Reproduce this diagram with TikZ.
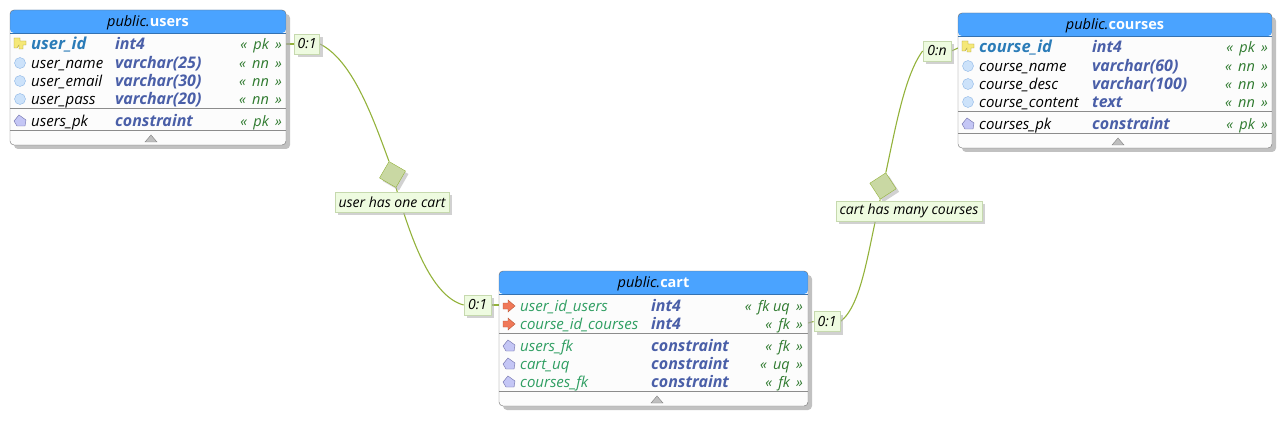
\documentclass[tikz,border=0pt]{standalone}
\usepackage{fontspec}
\setmainfont{Open Sans}
\usetikzlibrary{shadows,backgrounds}
\definecolor{headblue}{HTML}{4AA3FF}
\definecolor{framegray}{HTML}{6E6E6E}
\definecolor{sepgray}{HTML}{8C8C8C}
\definecolor{pkblue}{HTML}{2B7CB8}
\definecolor{fkgreen}{HTML}{2F9E62}
\definecolor{typeblue}{HTML}{4A5FA8}
\definecolor{taggreen}{HTML}{2F7A2F}
\definecolor{cardfill}{HTML}{EEFBE0}
\definecolor{carddraw}{HTML}{C6D9AE}
\definecolor{relgreen}{HTML}{93B23B}
\definecolor{relfill}{HTML}{C9D8A3}
\definecolor{colfill}{HTML}{CCE2FA}
\definecolor{coldraw}{HTML}{8DB6E6}
\definecolor{confill}{HTML}{C4C6F5}
\definecolor{condraw}{HTML}{6C6CA8}
\definecolor{pkfill}{HTML}{F5E878}
\definecolor{pkdraw}{HTML}{A89A30}
\definecolor{fkfill}{HTML}{F07858}
\definecolor{fkdraw}{HTML}{B85838}
\tikzstyle{tablebody}=[rectangle, draw=framegray, fill=black!1, rounded corners=4pt, inner sep=0pt, outer sep=0pt,
    drop shadow={shadow xshift=4pt, shadow yshift=-4pt, fill=black!35, opacity=0.7},
    path picture={\fill[headblue] (path picture bounding box.north west) rectangle ([yshift=-23pt]path picture bounding box.north east);
        \draw[headblue!70!black] ([yshift=-23pt]path picture bounding box.north west) -- ([yshift=-23pt]path picture bounding box.north east);}]
\tikzstyle{tabletitle}=[font=\fontsize{14.5}{16}\selectfont\itshape, inner sep=0pt, yshift=-1.5pt]
\tikzstyle{colname}=[anchor=mid west, inner sep=0pt, yshift=-2.5pt, font=\fontsize{15}{16}\selectfont\itshape]
\tikzstyle{colkey}=[colname, text=pkblue, font=\fontsize{16.5}{16}\selectfont\itshape\bfseries]
\tikzstyle{coltype}=[colname, text=typeblue, font=\fontsize{16}{16}\selectfont\itshape\bfseries]
\tikzstyle{coltag}=[anchor=mid east, inner sep=0pt, yshift=-2.5pt, text=taggreen, font=\fontsize{14.5}{16}\selectfont\itshape]
\tikzstyle{sepline}=[draw=sepgray]
\tikzstyle{cardlabel}=[rectangle, draw=carddraw, fill=cardfill, thick, inner sep=0pt, minimum height=20pt,
    font=\fontsize{14}{16}\selectfont\itshape, drop shadow={shadow xshift=3pt, shadow yshift=-3pt, fill=black!30, opacity=0.6}]
\tikzstyle{reldiamond}=[rectangle, draw=relgreen, fill=relfill, minimum size=19pt, inner sep=0pt,
    drop shadow={shadow xshift=3pt, shadow yshift=-3pt, fill=black!30, opacity=0.6}]
\tikzstyle{relline}=[draw=relgreen, line width=1.1pt]
\tikzset{
    colicon/.pic={\draw[fill=colfill, draw=coldraw] (0,0) circle (5.5);},
    conicon/.pic={\draw[fill=confill, draw=condraw] (-6,0) -- (-1,-6) -- (6,-1) -- (5,5) -- (-3,5) -- cycle;},
    pkicon/.pic={\draw[fill=pkfill, draw=pkdraw] (-6,-6) -- (0,-6) -- (0,-3) -- (6,-3) -- (6,1) -- (3,1) -- (3,5) -- (-1,5) -- (-1,1) -- (-3,4) -- (-6,4) -- cycle;},
    fkicon/.pic={\draw[fill=fkfill, draw=fkdraw] (-6,-3) -- (-1,-3) -- (-1,-6) -- (6,0) -- (-1,6) -- (-1,3) -- (-6,3) -- cycle;},
    foldicon/.pic={\draw[fill=black!25, draw=black!50] (-6,3.5) -- (0,-3.5) -- (6,3.5) -- cycle;}
}
\begin{document}
\begin{tikzpicture}[x=1pt, y=-1pt]
    \useasboundingbox (0, 0) rectangle (1287, 422);
    % tables
    \node[tablebody, minimum width=276pt, minimum height=135pt] (users) at (148, 77.5) {};
    \node[tablebody, minimum width=309pt, minimum height=135pt] (cart) at (653.5, 338.5) {};
    \node[tablebody, minimum width=314pt, minimum height=135pt] (courses) at (1115, 80.5) {};
    \node[tabletitle] (userstitle) at (148, 21.5) {public.\textcolor{white}{\upshape\bfseries users}};
    \node[tabletitle] (carttitle) at (653.5, 282.5) {public.\textcolor{white}{\upshape\bfseries cart}};
    \node[tabletitle] (coursestitle) at (1115, 24.5) {public.\textcolor{white}{\upshape\bfseries courses}};
    % users rows
    \foreach \i/\icon/\cname/\ctype/\ctag/\cy in {
        1/colicon/user\_name/varchar(25)/nn/63, 2/colicon/user\_email/varchar(30)/nn/81,
        3/colicon/user\_pass/varchar(20)/nn/99, 4/conicon/users\_pk/constraint/pk/121} {
        \pic at (20, \cy) {\icon};
        \node[colname] (usersname\i) at (31, \cy) {\cname};
        \node[coltype] (userstype\i) at (115, \cy) {\ctype};
        \node[coltag] (userstag\i) at (282, \cy) {«\, \ctag{} \,»};
    }
    \pic at (20, 44) {pkicon};
    \node[colkey] (usersid) at (31, 44) {user\_id};
    \node[coltype] (usersidtype) at (115, 44) {int4};
    \node[coltag] (usersidtag) at (282, 44) {«\, pk \,»};
    \draw[sepline] (10, 108) -- (286, 108);
    \draw[sepline] (10, 130) -- (286, 130);
    \pic at (151, 138.5) {foldicon};
    % cart rows
    \foreach \i/\icon/\cname/\ctype/\ctag/\cy in {
        1/fkicon/user\_id\_users/int4/fk uq/306, 2/fkicon/course\_id\_courses/int4/fk/324,
        3/conicon/users\_fk/constraint/fk/346, 4/conicon/cart\_uq/constraint/uq/364,
        5/conicon/courses\_fk/constraint/fk/382} {
        \pic at (509, \cy) {\icon};
        \node[colname, text=fkgreen] (cartname\i) at (520, \cy) {\cname};
        \node[coltype] (carttype\i) at (651, \cy) {\ctype};
        \node[coltag] (carttag\i) at (803, \cy) {«\, \ctag{} \,»};
    }
    \draw[sepline] (499, 333) -- (808, 333);
    \draw[sepline] (499, 391) -- (808, 391);
    \pic at (657, 399.5) {foldicon};
    % courses rows
    \foreach \i/\icon/\cname/\ctype/\ctag/\cy in {
        1/colicon/course\_name/varchar(60)/nn/66, 2/colicon/course\_desc/varchar(100)/nn/84,
        3/colicon/course\_content/text/nn/102, 4/conicon/courses\_pk/constraint/pk/124} {
        \pic at (968, \cy) {\icon};
        \node[colname] (coursesname\i) at (979, \cy) {\cname};
        \node[coltype] (coursestype\i) at (1092, \cy) {\ctype};
        \node[coltag] (coursestag\i) at (1268, \cy) {«\, \ctag{} \,»};
    }
    \pic at (968, 47) {pkicon};
    \node[colkey] (courseid) at (979, 47) {course\_id};
    \node[coltype] (courseidtype) at (1092, 47) {int4};
    \node[coltag] (courseidtag) at (1268, 47) {«\, pk \,»};
    \draw[sepline] (958, 111) -- (1272, 111);
    \draw[sepline] (958, 133) -- (1272, 133);
    \pic at (1118, 141.5) {foldicon};
    % relationships
    \node[cardlabel, minimum width=25pt] (usercard) at (307, 44) {0:1};
    \node[cardlabel, minimum width=27pt] (cartcardl) at (477.5, 305) {0:1};
    \node[cardlabel, minimum width=26pt] (cartcardr) at (827, 321.5) {0:1};
    \node[cardlabel, minimum width=28pt] (coursecard) at (937, 51) {0:n};
    \node[reldiamond, rotate=-30] (userrel) at (392.5, 174.5) {};
    \node[reldiamond, rotate=33] (courserel) at (883, 186) {};
    \node[cardlabel, minimum width=114pt] (userlabel) at (392, 202) {user has one cart};
    \node[cardlabel, minimum width=146pt] (courselabel) at (909, 211) {cart has many courses};
    \coordinate (userstub) at (286, 44);
    \coordinate (cartstubl) at (499, 305);
    \coordinate (cartstubr) at (808, 323);
    \coordinate (coursestub) at (958, 48);
    \begin{scope}[on background layer]
        \draw[relline] (userstub) -- (usercard.west);
        \draw[relline] (cartstubl) -- (cartcardl.east);
        \draw[relline] (cartstubr) -- (cartcardr.west);
        \draw[relline] (coursestub) -- (coursecard.east);
        \draw[relline] (usercard.east) .. controls (352, 60) and (372, 115) .. (userrel.north west);
        \draw[relline] (userrel.south east) .. controls (410, 235) and (430, 296) .. (cartcardl.west);
        \draw[relline] (courserel.south west) .. controls (868, 250) and (862, 305) .. (cartcardr.east);
        \draw[relline] (courserel.north east) .. controls (896, 125) and (905, 75) .. (coursecard.west);
    \end{scope}
\end{tikzpicture}
\end{document}
